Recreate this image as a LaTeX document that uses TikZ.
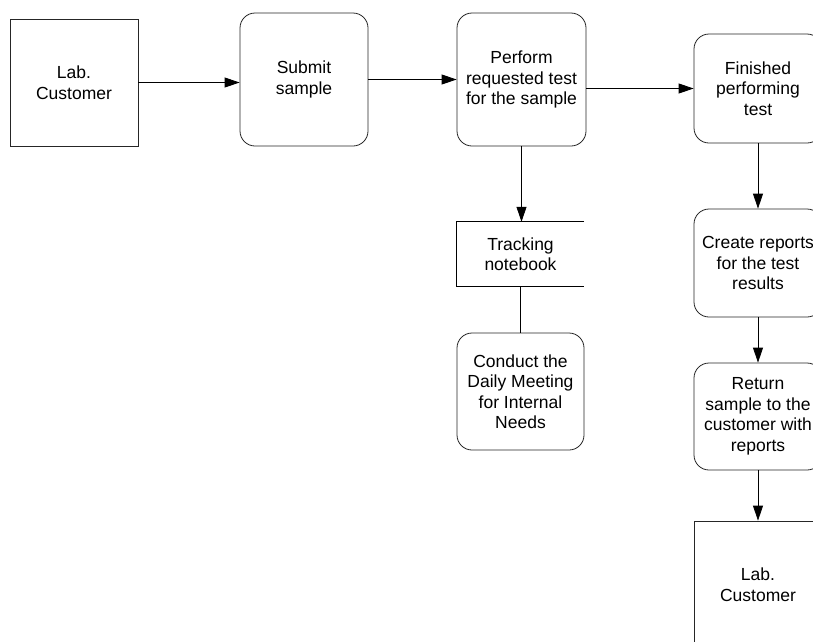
\documentclass[tikz,border=0pt]{standalone}
\usepackage{fontspec}
\setmainfont{Liberation Sans}
\usetikzlibrary{arrows.meta}
\begin{document}
\begin{tikzpicture}[x=1pt,y=-1pt,
  every node/.style={font=\fontsize{17.5}{20.5}\selectfont, align=center, inner sep=0pt},
  sqbox/.style={draw=black!85, line width=0.8pt, minimum width=128pt, minimum height=127pt},
  rbox/.style={draw=black!85, line width=0.8pt, rounded corners=15pt, minimum width=128pt},
  conn/.style={draw=black, line width=0.8pt, -{Triangle[length=15pt,width=10pt]}},
  plain/.style={draw=black, line width=0.8pt}]
\useasboundingbox (0,0) rectangle (813,641);
\clip (0,0) rectangle (813,641);
\fill[white] (0,0) rectangle (813,641);

\node[sqbox] (cust1) at (74,82.5) {Lab.\\Customer};
\node[rbox, minimum height=133pt] (submit) at (304,79.5) {Submit\\sample};
\node[rbox, minimum height=133pt, minimum width=129pt] (perform) at (521.5,79.5) {Perform\\requested test\\for the sample};
\node[rbox, minimum height=109pt] (finished) at (758,88.5) {Finished\\performing\\test};
\node[rbox, minimum height=108pt] (create) at (758,263) {Create reports\\for the test\\results};
\node[rbox, minimum height=107pt] (return) at (758,416.5) {Return\\sample to the\\customer with\\reports};
\node[sqbox] (cust2) at (758,584.5) {Lab.\\Customer};
\node[minimum width=127pt, minimum height=64pt] (track) at (520.5,254) {Tracking\\notebook};
\draw[plain] (track.north east) -- (track.north west) -- (track.south west) -- (track.south east);
\node[rbox, minimum height=117pt, minimum width=127pt] (conduct) at (520.5,391.5) {Conduct the\\Daily Meeting\\for Internal\\Needs};

\draw[conn] (cust1.east) -- (cust1.east -| submit.west);
\draw[conn] (submit.east) -- (submit.east -| perform.west);
\draw[conn] (finished.west -| perform.east) -- (finished.west);
\draw[conn] (perform.south) -- (perform.south |- track.north);
\draw[plain] (track.south) -- (conduct.north);
\draw[conn] (finished.south) -- (create.north);
\draw[conn] (create.south) -- (return.north);
\draw[conn] (return.south) -- (cust2.north);
\end{tikzpicture}
\end{document}
